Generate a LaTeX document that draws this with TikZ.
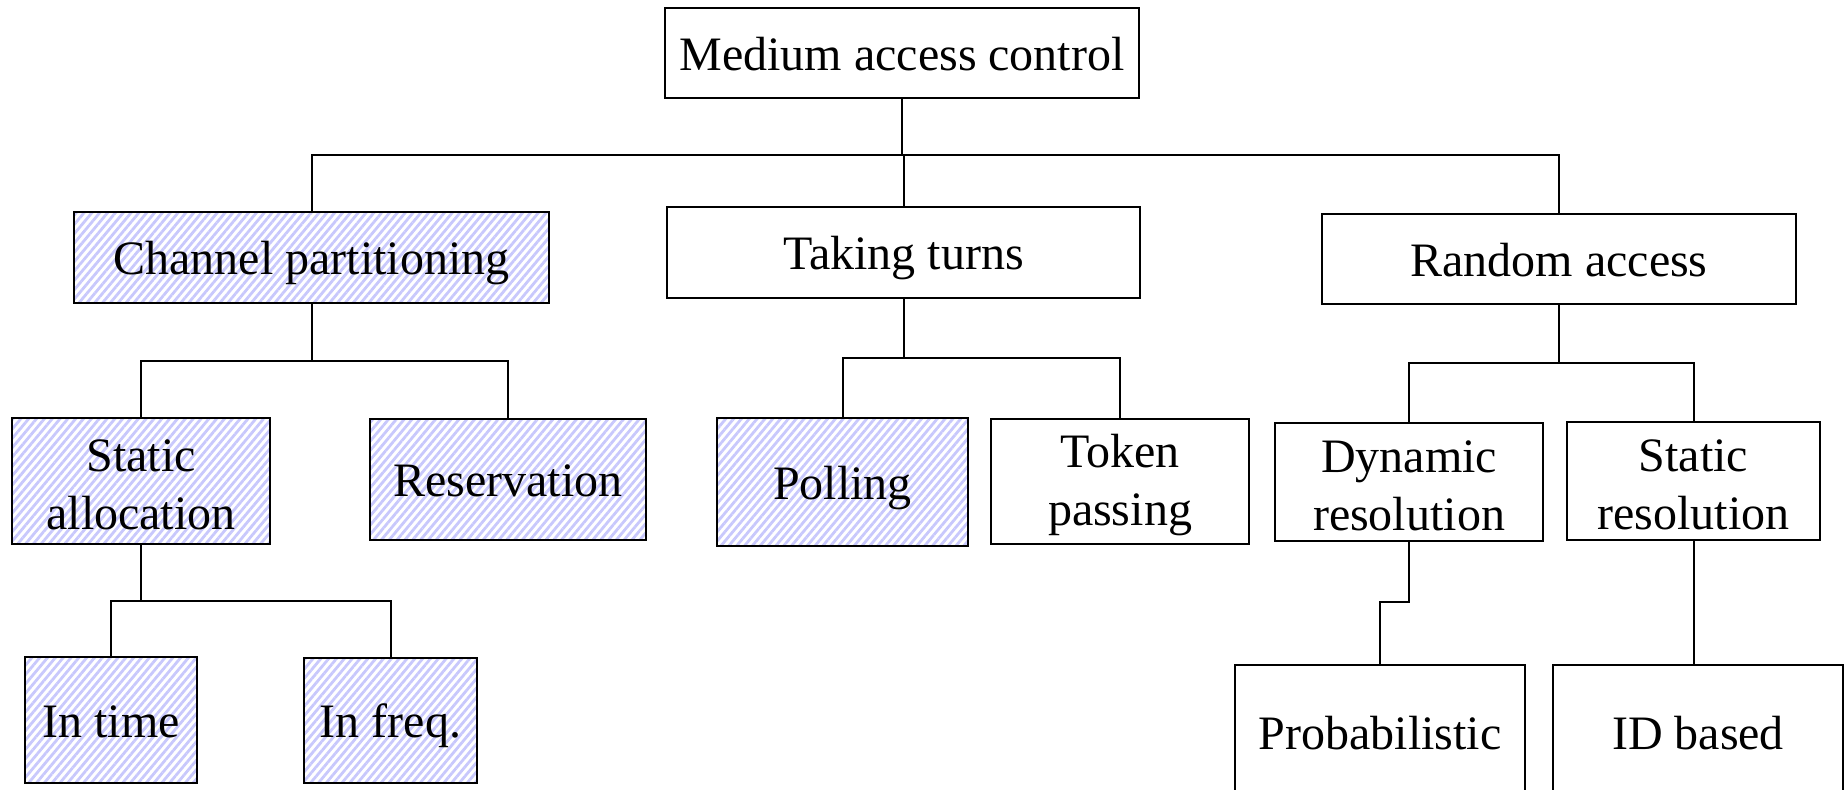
\documentclass[tikz,border=0pt]{standalone}
\usepackage{fontspec}
\setmainfont{Liberation Serif}
\usetikzlibrary{patterns.meta}
\definecolor{hatchblue}{RGB}{200,200,252}
% strut that lowers two-line labels a little inside their boxes
\newcommand{\firstline}{\rule{0pt}{20pt}}
\tikzset{
  box/.style={draw=black, line width=1pt, fill=white, inner sep=0pt, outer sep=0pt,
    font=\fontsize{24}{29}\selectfont, align=center},
  one/.style={text height=17pt, text depth=0pt},
  hatched/.style={pattern={Lines[angle=50,distance=3pt,line width=1.4pt]},
    pattern color=hatchblue},
  link/.style={draw=black, line width=1pt},
}
\begin{document}
\begin{tikzpicture}[x=0.5pt, y=-0.5pt]
\useasboundingbox (0,0) rectangle (1847,789);

% top level
\node[box, one, minimum width=237pt, minimum height=45pt] (mac) at (902,53) {Medium access control};

% second level
\node[box, one, hatched, minimum width=237.5pt, minimum height=45.5pt] (cp) at (311.5,257.5) {Channel partitioning};
\node[box, one, minimum width=236.5pt, minimum height=45.5pt] (tt) at (903.5,252.5) {Taking turns};
\node[box, one, minimum width=237pt, minimum height=45pt] (ra) at (1559,259) {Random access};

% third level
\node[box, hatched, minimum width=129pt, minimum height=63pt] (sa) at (141,481) {\firstline Static\\allocation};
\node[box, one, hatched, minimum width=138pt, minimum height=60.5pt] (res) at (508,479.5) {Reservation};
\node[box, one, hatched, minimum width=125.5pt, minimum height=64pt] (pol) at (842.5,482) {Polling};
\node[box, minimum width=129pt, minimum height=62.5pt] (tok) at (1120,481.5) {\firstline Token\\passing};
\node[box, minimum width=134pt, minimum height=59pt] (dyn) at (1409,482) {\firstline Dynamic\\resolution};
\node[box, minimum width=126.5pt, minimum height=59pt] (sr) at (1693.5,481) {\firstline Static\\resolution};

% fourth level
\node[box, one, hatched, minimum width=86pt, minimum height=63pt] (it) at (111,720) {In time};
\node[box, one, hatched, minimum width=86.5pt, minimum height=62.5pt] (if) at (390.5,720.5) {In freq.};
\node[box, one, minimum width=145pt, minimum height=67pt] (prob) at (1380,732) {Probabilistic};
\node[box, one, minimum width=145pt, minimum height=67pt] (idb) at (1698,732) {ID based};

% bus points
\coordinate (b0) at (902,155);
\coordinate (b1) at (311.5,361);
\coordinate (b2) at (903.5,358);
\coordinate (b3) at (1559,363);
\coordinate (b4) at (141,601);
\coordinate (j5) at (1380,602);

% connectors
\draw[link] (mac.south) -- (b0);
\draw[link] (cp.north) |- (b0);
\draw[link] (ra.north) |- (b0);
\draw[link] (tt.north) -- (tt.north |- b0);

\draw[link] (cp.south) -- (b1);
\draw[link] (sa.north) |- (b1);
\draw[link] (res.north) |- (b1);

\draw[link] (tt.south) -- (b2);
\draw[link] (pol.north) |- (b2);
\draw[link] (tok.north) |- (b2);

\draw[link] (ra.south) -- (b3);
\draw[link] (dyn.north) |- (b3);
\draw[link] (sr.north) |- (b3);

\draw[link] (sa.south) -- (b4);
\draw[link] (it.north) |- (b4);
\draw[link] (if.north) |- (b4);

\draw[link] (dyn.south) |- (j5) -- (prob.north);
\draw[link] (sr.south) -- (sr.south |- idb.north);
\end{tikzpicture}
\end{document}
